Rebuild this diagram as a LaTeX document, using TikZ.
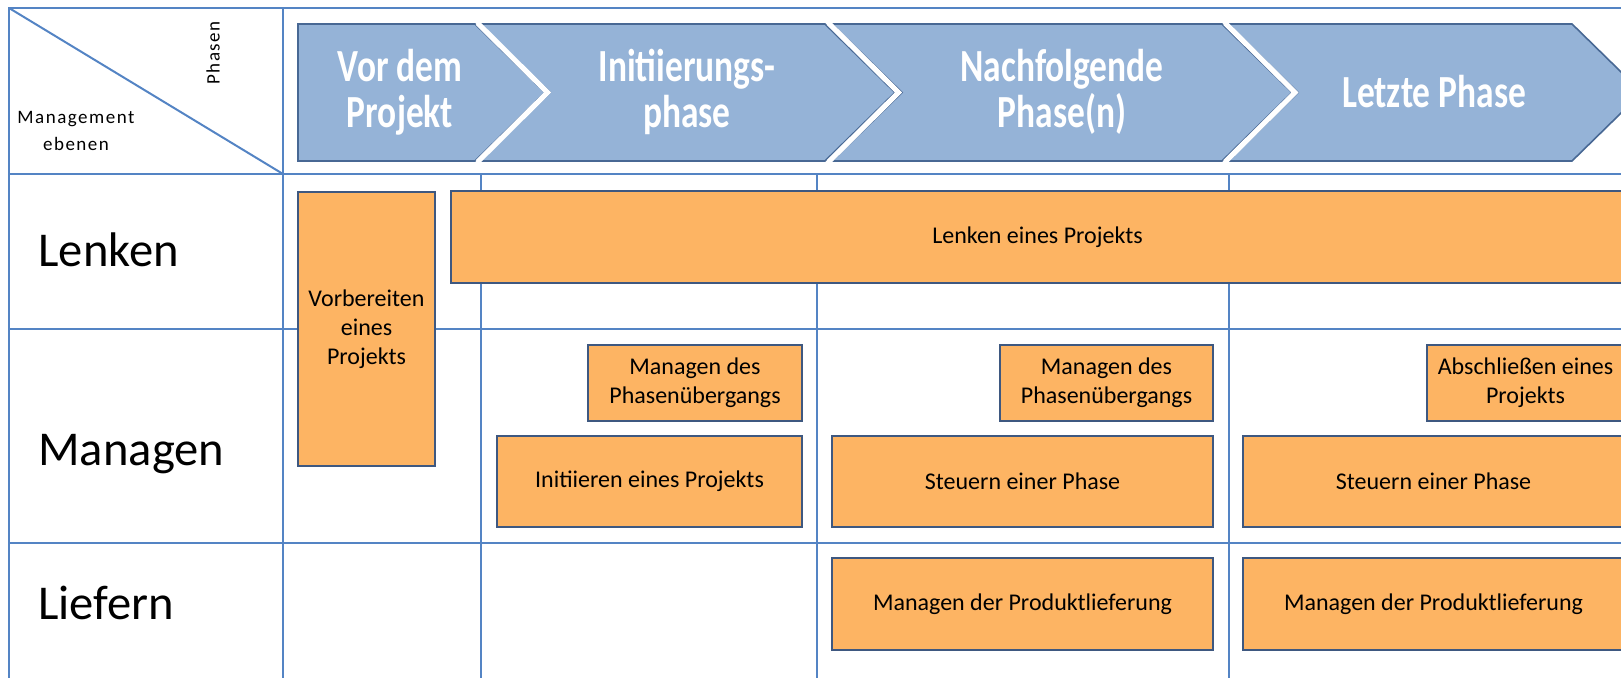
\documentclass[tikz,border=0pt]{standalone}
\usepackage{fontspec}
\setmainfont{Carlito}
\newfontfamily\chevfont[FakeStretch=0.77]{Carlito Bold}
\newfontfamily\cornerfont[LetterSpace=8]{Carlito}
\usetikzlibrary{fit}
\definecolor{gridblue}{RGB}{84,132,196}
\definecolor{phasefill}{RGB}{149,179,215}
\definecolor{phaseline}{RGB}{72,104,148}
\definecolor{procfill}{RGB}{253,180,99}
\definecolor{procline}{RGB}{62,88,128}
\tikzset{
    gridline/.style={draw=gridblue, line width=1pt}, % table lines
    phase/.style={fill=phasefill, draw=phaseline, line width=0.8pt},
    phasegap/.style={draw=white, line width=2.6pt}, % white seam between two phases
    phasetext/.style={text=white, align=center, font=\chevfont\fontsize{23}{23}\selectfont},
    proc/.style={ % orange process boxes
        fill=procfill,
        draw=procline,
        line width=0.9pt,
        inner sep=0pt,
        align=center,
        font=\fontsize{12}{14.5}\selectfont
    },
    proctext/.style={align=center, font=\fontsize{12}{14.5}\selectfont},
    level/.style={anchor=base west, inner sep=0pt, font=\fontsize{24.3}{29}\selectfont},
    corner/.style={align=center, font=\cornerfont\fontsize{9.5}{13.5}\selectfont}
}

\begin{document}
\begin{tikzpicture}[x=0.5pt, y=-0.5pt] % one unit = one pixel, y downwards
    \useasboundingbox (0,0) rectangle (1621,678);
    \clip (0,0) rectangle (1621,678);

    % table
    \draw[gridline] (1630,8) -- (9,8) -- (9,690);
    \draw[gridline] (283,8) -- (283,690);
    \draw[gridline] (9,8) -- (283,174);
    \draw[gridline] (9,174) -- (1630,174);
    \draw[gridline] (9,329) -- (1630,329);
    \draw[gridline] (9,543) -- (1630,543);
    \draw[gridline] (481,174) -- (481,690);
    \draw[gridline] (817,174) -- (817,690);
    \draw[gridline] (1229,174) -- (1229,690);

    \node[corner, rotate=90] (phasen) at (213,53) {Phasen};
    \node[corner] (ebenen) at (76,131) {Management\\ebenen};

    % phases
    \draw[phase] (298,24) -- (475,24) -- (545,92.5) -- (475,161) -- (298,161) -- cycle;
    \draw[phase] (480,24) -- (825,24) -- (895,92.5) -- (825,161) -- (480,161) -- (550,92.5) -- cycle;
    \draw[phase] (832,24) -- (1222,24) -- (1292,92.5) -- (1222,161) -- (832,161) -- (902,92.5) -- cycle;
    \draw[phase] (1228,24) -- (1572,24) -- (1642,92.5) -- (1572,161) -- (1228,161) -- (1298,92.5) -- cycle;
    \draw[phasegap] (477.5,23) -- (547.5,92.5) -- (477.5,162);
    \draw[phasegap] (828.5,23) -- (898.5,92.5) -- (828.5,162);
    \draw[phasegap] (1225,23) -- (1295,92.5) -- (1225,162);
    \node[phasetext] (vor) at (400,92) {Vor dem\\Projekt};
    \node[phasetext] (initph) at (687,92) {Initiierungs-\\phase};
    \node[phasetext] (nachf) at (1062,92) {Nachfolgende\\Phase(n)};
    \node[phasetext] (letzte) at (1434,92) {Letzte Phase};

    % levels
    \node[level] (lenken) at (38,267) {Lenken};
    \node[level] (managen) at (38,465) {Managen};
    \node[level] (liefern) at (38,619) {Liefern};

    % processes
    \node[proc, fit={(298,192) (435,466)}] (vorb) {};
    \node[proctext] at (vorb.center) {Vorbereiten\\eines\\Projekts};
    \node[proc, fit={(451,191) (1624,283)}] (lenkp) {};
    \node[proctext] at (lenkp.center) {Lenken eines Projekts};
    \node[proc, fit={(588,345) (802,421)}] (mdp1) {};
    \node[proctext] at (mdp1.center) {Managen des\\Phasenübergangs};
    \node[proc, fit={(497,436) (802,527)}] (initp) {};
    \node[proctext] at (initp.center) {Initiieren eines Projekts};
    \node[proc, fit={(1000,345) (1213,421)}] (mdp2) {};
    \node[proctext] at (mdp2.center) {Managen des\\Phasenübergangs};
    \node[proc, fit={(832,436) (1213,527)}] (steu1) {};
    \node[proctext] at (steu1.center) {Steuern einer Phase};
    \node[proc, fit={(1427,345) (1624,421)}] (absch) {};
    \node[proctext] at (absch.center) {Abschließen eines\\Projekts};
    \node[proc, fit={(1243,436) (1624,527)}] (steu2) {};
    \node[proctext] at (steu2.center) {Steuern einer Phase};
    \node[proc, fit={(832,558) (1213,650)}] (lief1) {};
    \node[proctext] at (lief1.center) {Managen der Produktlieferung};
    \node[proc, fit={(1243,558) (1624,650)}] (lief2) {};
    \node[proctext] at (lief2.center) {Managen der Produktlieferung};
\end{tikzpicture}
\end{document}
